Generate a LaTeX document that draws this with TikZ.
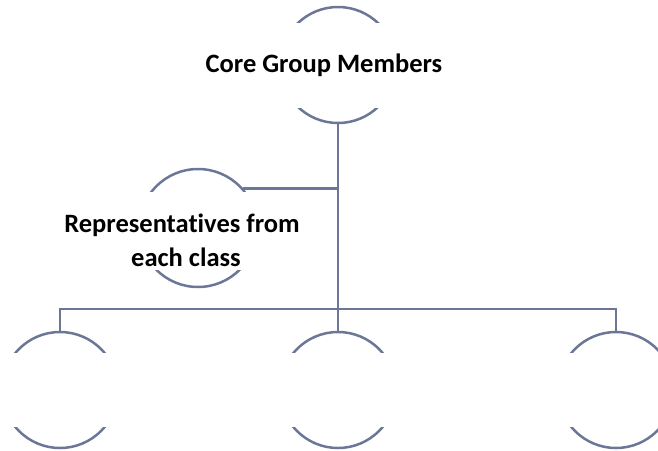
\documentclass[tikz,border=0pt]{standalone}
\usepackage{fontspec}
\setmainfont{Carlito}[Ligatures=NoCommon]
\usepackage{tikz}
\definecolor{orgline}{RGB}{108,119,152}

\begin{document}
\begin{tikzpicture}[x=1pt,y=-1pt,
		member/.style={circle, draw=orgline, line width=2.5pt, minimum size=116pt, inner sep=0pt},
		capt/.style={anchor=base, inner sep=0pt, font=\fontsize{26.5}{32}\selectfont\bfseries},
		link/.style={draw=orgline, line width=2.4pt}]
				\useasboundingbox (0,0) rectangle (658,450);
				\clip (0,0) rectangle (658,450);
				\node[member] (A) at (338,65){};
				\node[member, minimum size=118pt] (B) at (198,228){};
				\node[member] (C) at (60,390){};
				\node[member] (D) at (338,390){};
				\node[member] (E) at (616,390){};
				\fill[white] (170,23) rectangle (480,108);
				\fill[white] (40,192) rectangle (320,270);
				\fill[white] (-10,353) rectangle (140,427);
				\fill[white] (260,353) rectangle (420,427);
				\fill[white] (530,353) rectangle (670,427);
				\node[capt] (F) at (324,72){Core Group Members};
				\node[capt] (G) at (182,232){Representatives from};
				\node[capt] (H) at (186,266){each class};
				\coordinate (bus) at (338,309);
				\draw[link] (A.south) -- (D.north);
				\draw[link] (C.north) |- (bus) -| (E.north);
				\draw[link] (B.41) -- (B.41 -| A.south);
			\end{tikzpicture}
\end{document}
